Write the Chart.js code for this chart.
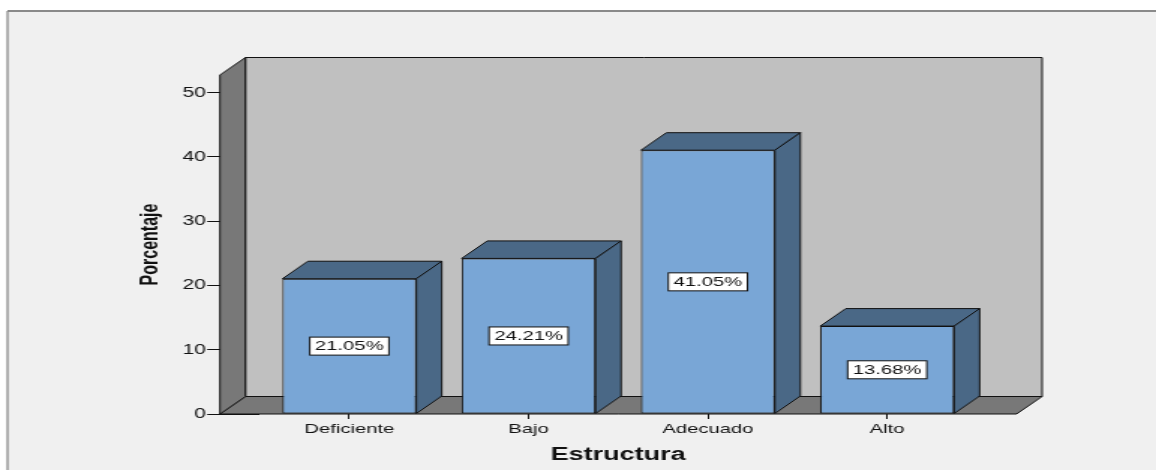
<!DOCTYPE html>
<html>
<head>
<meta charset="utf-8">
<script src="https://cdn.jsdelivr.net/npm/chart.js@4"></script>
<style>
  html, body { margin: 0; padding: 0; background: #fff; overflow: hidden; }
  /* chart is laid out narrow and stretched sideways */
  #wrap { position: absolute; left: 0; top: 0; width: 771px; height: 470px;
          transform: scaleX(1.49935); transform-origin: 0 0; }
</style>
</head>
<body>
<div id="wrap"><canvas id="barChart"></canvas></div>
<script>
const categories = ['Deficiente', 'Bajo', 'Adecuado', 'Alto'];
const percentages = [21.05, 24.21, 41.05, 13.68];
const yTickValues = [0, 10, 20, 30, 40, 50];

const FONT = '"Liberation Sans", Arial, sans-serif';

// depth of the 3D boxes and walls
const DX = 17, DY = 17.5, SIDE_PAD = 26.5;

function poly(ctx, pts, fill) {
  ctx.beginPath();
  ctx.moveTo(pts[0][0], pts[0][1]);
  for (let i = 1; i < pts.length; i++) ctx.lineTo(pts[i][0], pts[i][1]);
  ctx.closePath();
  ctx.fillStyle = fill;
  ctx.fill();
  ctx.strokeStyle = '#111';
  ctx.lineWidth = 1;
  ctx.stroke();
}

// light grey panel with a frame on top and left
const framePlugin = {
  id: 'frame',
  beforeDraw(chart) {
    const ctx = chart.ctx;
    ctx.save();
    ctx.fillStyle = '#f0f0f0';
    ctx.fillRect(5, 11, chart.width - 5, chart.height - 11);
    ctx.strokeStyle = '#8a8a8a';
    ctx.lineWidth = 2;
    ctx.beginPath();
    ctx.moveTo(5, 11);
    ctx.lineTo(chart.width, 11);
    ctx.stroke();
    ctx.lineWidth = 1.3;
    ctx.beginPath();
    ctx.moveTo(5, chart.height);
    ctx.lineTo(5, 11);
    ctx.stroke();
    ctx.restore();
  }
};

// back wall, floor and left wall
const wallsPlugin = {
  id: 'walls',
  beforeDatasetsDraw(chart) {
    const { ctx, chartArea: a } = chart;
    const fl = a.left - SIDE_PAD, fr = a.right + SIDE_PAD;
    const top = a.top, bot = a.bottom;
    ctx.save();
    poly(ctx, [[fl + DX, top - DY], [fr + DX, top - DY], [fr + DX, bot - DY], [fl + DX, bot - DY]], '#c0c0c0');
    poly(ctx, [[fl, bot], [fr, bot], [fr + DX, bot - DY], [fl + DX, bot - DY]], '#787878');
    poly(ctx, [[fl, top], [fl + DX, top - DY], [fl + DX, bot - DY], [fl, bot]], '#787878');
    ctx.restore();
  }
};

// top and side faces of each bar, plus the boxed value label
const barsPlugin = {
  id: 'bars3d',
  afterDatasetsDraw(chart) {
    const ctx = chart.ctx;
    const meta = chart.getDatasetMeta(0);
    ctx.save();
    meta.data.forEach((bar, i) => {
      const { x, y, base, width } = bar.getProps(['x', 'y', 'base', 'width'], true);
      const l = x - width / 2, r = x + width / 2;
      poly(ctx, [[l, y], [l + DX, y - DY], [r + DX, y - DY], [r, y]], '#4a6886');
      poly(ctx, [[r, y], [r + DX, y - DY], [r + DX, base - DY], [r, base]], '#4a6886');

      const text = percentages[i].toFixed(2) + '%';
      ctx.font = '13.5px ' + FONT;
      const w = ctx.measureText(text).width + 7, h = 18;
      const cy = (y + base) / 2;
      ctx.fillStyle = '#fff';
      ctx.fillRect(x - w / 2, cy - h / 2, w, h);
      ctx.strokeStyle = '#111';
      ctx.lineWidth = 1;
      ctx.strokeRect(x - w / 2, cy - h / 2, w, h);
      ctx.fillStyle = '#111';
      ctx.textAlign = 'center';
      ctx.textBaseline = 'middle';
      ctx.fillText(text, x, cy + 0.5);
    });
    ctx.restore();
  }
};

const ctx = document.getElementById('barChart').getContext('2d');
new Chart(ctx, {
  type: 'bar',
  data: {
    labels: categories,
    datasets: [
      {
        data: percentages,
        backgroundColor: '#79a6d6',
        borderColor: '#111',
        borderWidth: 1,
        borderSkipped: false,
        barPercentage: 0.747,
        categoryPercentage: 1,
      },
    ],
  },
  options: {
    responsive: true,
    maintainAspectRatio: false,
    animation: false,
    devicePixelRatio: 1,
    layout: { padding: { top: 75, right: 119.5, bottom: 0, left: 0 } },
    plugins: {
      legend: { display: false },
      tooltip: { enabled: false },
    },
    scales: {
      x: {
        grid: { drawOnChartArea: false, offset: false, tickLength: 5, tickColor: '#111' },
        border: { display: false },
        ticks: { color: '#111', font: { family: FONT, size: 13.5 }, padding: 2 },
        title: {
          display: true,
          text: 'Estructura',
          color: '#111',
          font: { family: FONT, size: 18, weight: 'bold' },
          padding: { top: 0, bottom: 4 },
        },
        afterFit(scale) { scale.height = 56; },
      },
      y: {
        min: 0,
        max: 52.75,
        afterBuildTicks(scale) { scale.ticks = yTickValues.map(v => ({ value: v })); },
        grid: { drawOnChartArea: false, tickLength: 35, tickColor: '#111' },
        border: { display: false },
        ticks: { color: '#111', font: { family: FONT, size: 14 }, padding: 1 },
        title: {
          display: true,
          text: 'Porcentaje',
          color: '#111',
          font: { family: FONT, size: 16, weight: 'bold' },
          padding: { top: 91, bottom: 0 },
        },
        afterFit(scale) { scale.width = 173.2; },
      },
    },
  },
  plugins: [framePlugin, wallsPlugin, barsPlugin],
});
</script>
</body>
</html>
